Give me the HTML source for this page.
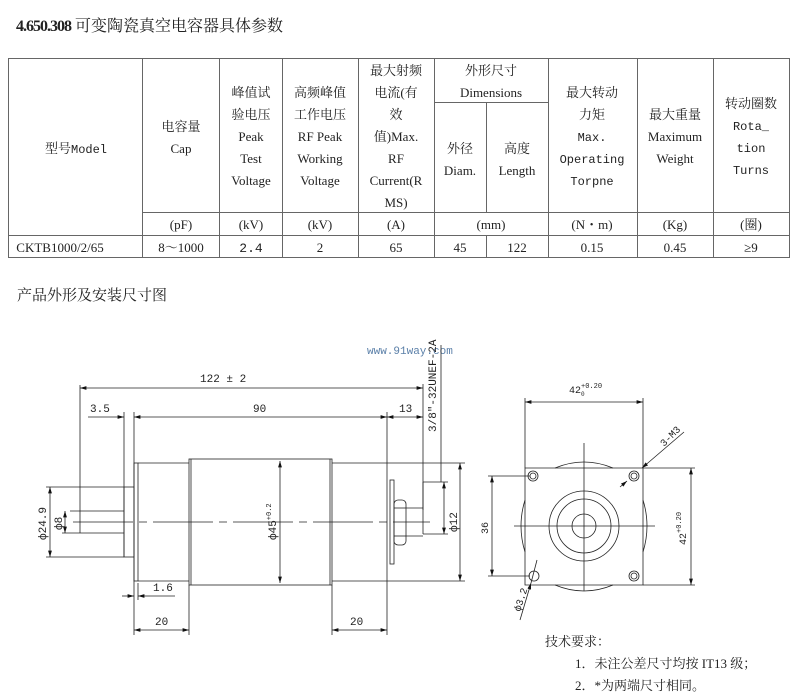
<!DOCTYPE html>
<html><head><meta charset="utf-8"><style>
html,body{margin:0;padding:0;background:#fff;width:800px;height:700px;overflow:hidden}
svg{display:block}
text{font-family:"Liberation Serif","Noto Serif CJK SC",serif;fill:#222}
.m{font-family:"Liberation Mono","Noto Sans CJK SC",monospace}
</style></head><body>
<svg width="800" height="700" viewBox="0 0 800 700" xmlns="http://www.w3.org/2000/svg">
<defs>
<marker id="a" viewBox="0 0 10 6" refX="10" refY="3" markerWidth="8" markerHeight="5" orient="auto-start-reverse"><path d="M0,0L10,3L0,6z" fill="#111"/></marker>
</defs>
<text x="16" y="31" font-size="16"><tspan font-weight="bold" letter-spacing="-1">4.650.308</tspan> 可变陶瓷真空电容器具体参数</text>
<!-- table -->
<g stroke="#666" stroke-width="1" fill="none">
<rect x="8.5" y="58.5" width="781" height="199"/>
<line x1="142.5" y1="58" x2="142.5" y2="258"/>
<line x1="219.5" y1="58" x2="219.5" y2="258"/>
<line x1="282.5" y1="58" x2="282.5" y2="258"/>
<line x1="358.5" y1="58" x2="358.5" y2="258"/>
<line x1="434.5" y1="58" x2="434.5" y2="258"/>
<line x1="486.5" y1="102" x2="486.5" y2="212"/>
<line x1="486.5" y1="235" x2="486.5" y2="258"/>
<line x1="548.5" y1="58" x2="548.5" y2="258"/>
<line x1="637.5" y1="58" x2="637.5" y2="258"/>
<line x1="713.5" y1="58" x2="713.5" y2="258"/>
<line x1="434" y1="102.5" x2="548" y2="102.5"/>
<line x1="142" y1="212.5" x2="790" y2="212.5"/>
<line x1="8" y1="235.5" x2="790" y2="235.5"/>
</g>
<g font-size="13" text-anchor="middle">
<text x="76" y="153"><tspan>型号</tspan><tspan class="m" font-size="12">Model</tspan></text>
<text x="181" y="131">电容量</text><text x="181" y="153">Cap</text>
<text x="251" y="97">峰值试</text><text x="251" y="119">验电压</text><text x="251" y="141">Peak</text><text x="251" y="163">Test</text><text x="251" y="185">Voltage</text>
<text x="320" y="97">高频峰值</text><text x="320" y="119">工作电压</text><text x="320" y="141">RF Peak</text><text x="320" y="163">Working</text><text x="320" y="185">Voltage</text>
<text x="396" y="75">最大射频</text><text x="396" y="97">电流(有</text><text x="396" y="119">效</text><text x="396" y="141">值)Max.</text><text x="396" y="163">RF</text><text x="396" y="185">Current(R</text><text x="396" y="207">MS)</text>
<text x="491" y="75">外形尺寸</text><text x="491" y="97">Dimensions</text>
<text x="460" y="153">外径</text><text x="460" y="175">Diam.</text>
<text x="517" y="153">高度</text><text x="517" y="175">Length</text>
<text x="592" y="97">最大转动</text><text x="592" y="119">力矩</text>
<text class="m" x="592" y="141" font-size="12">Max.</text><text class="m" x="592" y="163" font-size="12">Operating</text><text class="m" x="592" y="185" font-size="12">Torpne</text>
<text x="675" y="119">最大重量</text><text x="675" y="141">Maximum</text><text x="675" y="163">Weight</text>
<text x="751" y="108">转动圈数</text><text class="m" x="751" y="130" font-size="12">Rota_</text><text class="m" x="751" y="152" font-size="12">tion</text><text class="m" x="751" y="174" font-size="12">Turns</text>
<text x="181" y="229">(pF)</text><text x="251" y="229">(kV)</text><text x="320" y="229">(kV)</text><text x="396" y="229">(A)</text>
<text x="491" y="229">(mm)</text><text x="592" y="229">(N・m)</text><text x="675" y="229">(Kg)</text><text x="751" y="229">(圈)</text>
<text x="60" y="252">CKTB1000/2/65</text><text x="181" y="252">8～1000</text><text class="m" x="251" y="252">2.4</text><text x="320" y="252">2</text><text x="396" y="252">65</text>
<text x="460" y="252">45</text><text x="517" y="252">122</text><text x="592" y="252">0.15</text><text x="675" y="252">0.45</text><text x="751" y="252">≥9</text>
</g>
<text x="17" y="300" font-size="15">产品外形及安装尺寸图</text>
<text class="m" x="367" y="354" font-size="11" fill="#5a7fa8" style="fill:#5a7fa8">www.91way.com</text>

<!-- left drawing -->
<g stroke="#222" stroke-width="0.8" fill="none">
<line x1="80" y1="385" x2="80" y2="533"/>
<line x1="124" y1="412" x2="124" y2="557"/>
<line x1="134" y1="412" x2="134" y2="635"/>
<line x1="387" y1="412" x2="387" y2="635"/>
<line x1="423" y1="384" x2="423" y2="510"/>
<line x1="80" y1="388" x2="423" y2="388" marker-start="url(#a)" marker-end="url(#a)"/>
<line x1="88" y1="417" x2="124" y2="417" marker-end="url(#a)"/>
<line x1="134" y1="417" x2="387" y2="417" marker-start="url(#a)" marker-end="url(#a)"/>
<line x1="387" y1="417" x2="423" y2="417" marker-start="url(#a)" marker-end="url(#a)"/>
<!-- shaft / terminal -->
<line x1="70" y1="511" x2="124" y2="511"/>
<line x1="62" y1="533" x2="124" y2="533"/>
<line x1="46" y1="487" x2="124" y2="487"/>
<line x1="46" y1="557" x2="124" y2="557"/>
<rect x="124" y="487" width="10" height="70"/>
<line x1="50" y1="487" x2="50" y2="557" marker-start="url(#a)" marker-end="url(#a)"/>
<line x1="65" y1="511" x2="65" y2="533" marker-start="url(#a)" marker-end="url(#a)"/>
<!-- body -->
<rect x="134" y="463" width="4" height="118"/>
<line x1="138" y1="463" x2="189" y2="463"/><line x1="138" y1="581" x2="189" y2="581"/>
<rect x="189" y="459" width="143" height="126"/>
<line x1="191" y1="459" x2="191" y2="585"/><line x1="330" y1="459" x2="330" y2="585"/>
<line x1="332" y1="463" x2="465" y2="463"/><line x1="332" y1="581" x2="465" y2="581"/>
<line x1="280" y1="461" x2="280" y2="583" marker-start="url(#a)" marker-end="url(#a)"/>
<!-- right end -->
<rect x="390" y="480" width="4" height="84"/>
<rect x="394" y="500" width="12" height="45" rx="4"/>
<line x1="394" y1="508" x2="406" y2="508"/><line x1="394" y1="536" x2="406" y2="536"/>
<line x1="406" y1="508" x2="423" y2="508"/><line x1="406" y1="536" x2="423" y2="536"/>
<line x1="423" y1="482" x2="448" y2="482"/><line x1="423" y1="534" x2="448" y2="534"/>
<line x1="423" y1="482" x2="423" y2="534"/>
<line x1="444" y1="482" x2="444" y2="534" marker-start="url(#a)" marker-end="url(#a)"/>
<line x1="441" y1="345" x2="441" y2="482"/>
<line x1="460" y1="463" x2="460" y2="581" marker-start="url(#a)" marker-end="url(#a)"/>
<line x1="73" y1="522" x2="430" y2="522" stroke-dasharray="60 6 8 6"/>
<!-- 1.6 -->
<line x1="122" y1="596" x2="134" y2="596" marker-end="url(#a)"/>
<line x1="150" y1="596" x2="138" y2="596" marker-end="url(#a)"/>
<line x1="138" y1="583" x2="138" y2="600"/>
<line x1="150" y1="596" x2="175" y2="596"/>
<!-- 20s -->
<line x1="189" y1="585" x2="189" y2="635"/><line x1="332" y1="585" x2="332" y2="635"/>
<line x1="134" y1="630" x2="189" y2="630" marker-start="url(#a)" marker-end="url(#a)"/>
<line x1="332" y1="630" x2="387" y2="630" marker-start="url(#a)" marker-end="url(#a)"/>
</g>
<g font-size="11" class="m">
<text class="m" x="200" y="382">122 ± 2</text>
<text class="m" x="90" y="412">3.5</text>
<text class="m" x="253" y="412">90</text>
<text class="m" x="399" y="412">13</text>
<text class="m" x="153" y="591">1.6</text>
<text class="m" x="155" y="625">20</text>
<text class="m" x="350" y="625">20</text>
<text class="m" transform="translate(436,432) rotate(-90)">3/8"-32UNEF-2A</text>
<text class="m" transform="translate(46,540) rotate(-90)">ф24.9</text>
<text class="m" transform="translate(62,530) rotate(-90)">ф8</text>
<text class="m" transform="translate(276,540) rotate(-90)">ф45<tspan font-size="7" dy="-5">+0.2</tspan></text>
<text class="m" transform="translate(457,532) rotate(-90)">ф12</text>
</g>

<!-- right drawing -->
<g stroke="#222" stroke-width="0.8" fill="none">
<path d="M525,468 H643 V585 H525 Z"/>
<path d="M555,468 Q584,456 613,468"/><path d="M555,585 Q584,597 613,585"/>
<path d="M525,500 Q517,526 525,552"/><path d="M643,500 Q651,526 643,552"/>
<circle cx="584" cy="526" r="35"/><circle cx="584" cy="526" r="27"/><circle cx="584" cy="526" r="12"/>
<circle cx="533" cy="476" r="5"/><circle cx="533" cy="476" r="3"/>
<circle cx="634" cy="476" r="5"/><circle cx="634" cy="476" r="3"/>
<circle cx="534" cy="576" r="5"/>
<circle cx="634" cy="576" r="5"/><circle cx="634" cy="576" r="3"/>
<line x1="514" y1="526" x2="655" y2="526"/>
<line x1="584" y1="443" x2="584" y2="591"/>
<line x1="525" y1="398" x2="525" y2="468"/><line x1="643" y1="398" x2="643" y2="468"/>
<line x1="525" y1="402" x2="643" y2="402" marker-start="url(#a)" marker-end="url(#a)"/>
<line x1="643" y1="468" x2="695" y2="468"/><line x1="643" y1="585" x2="695" y2="585"/>
<line x1="691" y1="468" x2="691" y2="585" marker-start="url(#a)" marker-end="url(#a)"/>
<line x1="488" y1="476" x2="530" y2="476"/><line x1="488" y1="576" x2="530" y2="576"/>
<line x1="492" y1="476" x2="492" y2="576" marker-start="url(#a)" marker-end="url(#a)"/>
<line x1="684" y1="432" x2="642" y2="468" marker-end="url(#a)"/>
<line x1="620" y1="487" x2="627" y2="481" marker-end="url(#a)"/>
<line x1="537" y1="560" x2="531" y2="583"/>
<line x1="520" y1="620" x2="531" y2="583" marker-end="url(#a)"/>
</g>
<g font-size="10">
<text class="m" x="569" y="393">42<tspan font-size="7" dy="-5">+0.20</tspan></text>
<text class="m" font-size="6" x="581" y="396">0</text>
<text class="m" transform="translate(686,545) rotate(-90)">42<tspan font-size="7" dy="-5">+0.20</tspan></text>
<text class="m" transform="translate(488,534) rotate(-90)">36</text>
<text class="m" transform="translate(664,447) rotate(-45)">3-M3</text>
<text class="m" transform="translate(520,612) rotate(-72)">ф3.2</text>
</g>
<g font-size="13">
<text x="545" y="646">技术要求：</text>
<text x="575" y="668">1．未注公差尺寸均按 IT13 级；</text>
<text x="575" y="690">2．*为两端尺寸相同。</text>
</g>
</svg>
</body></html>
